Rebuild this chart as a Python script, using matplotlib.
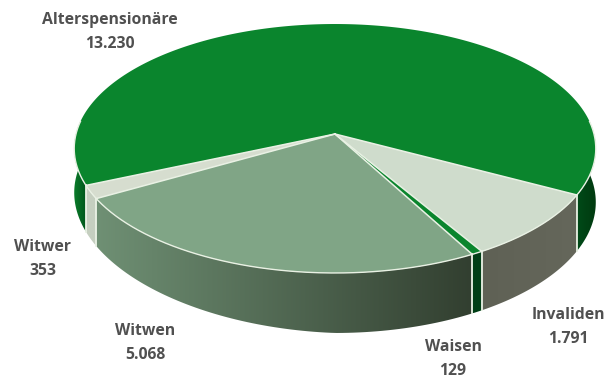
import numpy as np
import matplotlib
matplotlib.use('Agg')
import matplotlib.pyplot as plt
from matplotlib.patches import Polygon
from matplotlib.colors import LinearSegmentedColormap

# Pensionsarten und Anzahl
kategorien = ['Alterspensionäre', 'Invaliden', 'Waisen', 'Witwen', 'Witwer']
werte = [13230, 1791, 129, 5068, 353]

farben_oben = ['#0a852d', '#cfdccc', '#0a852d', '#80a586', '#d6ddcf']
# Verlauf der Seitenflaechen, jeweils von links nach rechts
farben_seite = [['#004a18', '#003a10'], ['#5f6155', '#65675b'], ['#003f16', '#003f16'],
                ['#6f9074', '#323f30'], ['#c5cfc0', '#c5cfc0']]
farben_seite_links = ['#0a7c2a', '#00561c']
label_pos = [(110, 32), (568, 327), (453, 359), (145, 343), (43, 259)]

# Geometrie der Torte in Pixeln
cx, cy = 335, 134
R, S = 259, 122.8
k = 0.1165
tiefe = 53
start = 28.0


def rand(t, unten=False):
    # Punkt auf dem Kreis, perspektivisch verzerrt (t in Grad, im Uhrzeigersinn)
    t = np.radians(t)
    w = 1 - k * np.sin(t)
    x = cx + R * np.cos(t) / w
    y = cy + S * np.sin(t) / w
    if unten:
        y = y + tiefe / w * (1 + 0.18 * np.minimum(np.cos(t), 0))
    return x, y


def seite(t0, t1, farben):
    # Seitenflaeche zwischen t0 und t1 mit horizontalem Verlauf
    t = np.linspace(t0, t1, 80)
    xo, yo = rand(t)
    xu, yu = rand(t, True)
    pts = np.column_stack([np.r_[xo, xu[::-1]], np.r_[yo, yu[::-1]]])
    cmap = LinearSegmentedColormap.from_list('s', farben)
    grad = np.linspace(0, 1, 256).reshape(1, -1)
    im = ax.imshow(grad, cmap=cmap, aspect='auto', zorder=2, interpolation='bilinear',
                   extent=[pts[:, 0].min(), pts[:, 0].max(), pts[:, 1].max(), pts[:, 1].min()])
    im.set_clip_path(Polygon(pts, closed=True, transform=ax.transData))


fig = plt.figure(figsize=(6.15, 3.78), dpi=100)
ax = fig.add_axes([0, 0, 1, 1])

anteile = np.array(werte) / sum(werte) * 360
# Alterspensionäre liegt hinten und schliesst den Kreis
grenzen = start - anteile[0] + np.r_[0, np.cumsum(anteile)]
sichtbar = (-6, 186)
hell = '#e9f1e4'

# Alterspensionäre ist zweimal sichtbar: rechts und links
seite(sichtbar[0], grenzen[1], farben_seite[0])
seite(grenzen[-1], sichtbar[1], farben_seite_links)
for i in range(1, len(werte)):
    seite(grenzen[i], grenzen[i + 1], farben_seite[i])

for i in range(len(werte)):
    t = np.linspace(grenzen[i], grenzen[i + 1], 300)
    x, y = rand(t)
    pts = np.column_stack([np.r_[cx, x], np.r_[cy, y]])
    ax.add_patch(Polygon(pts, closed=True, fc=farben_oben[i], ec='none', zorder=3))

# helle Kanten zwischen den Stuecken und am vorderen Rand
for g in grenzen[1:]:
    x, y = rand(g)
    ax.plot([cx, x], [cy, y], color=hell, lw=1.1, zorder=4)
    xu, yu = rand(g, True)
    ax.plot([x, xu], [y, yu], color=hell, lw=1.3, zorder=4)
t = np.linspace(sichtbar[0], sichtbar[1], 400)
x, y = rand(t)
ax.plot(x, y, color=hell, lw=1.0, zorder=4)

for name, wert, (lx, ly) in zip(kategorien, werte, label_pos):
    text = name + '\n' + f'{wert:,}'.replace(',', '.')
    ax.text(lx, ly, text, ha='center', va='center', fontsize=11.3, fontweight='bold',
            family='Open Sans', color='#505050', linespacing=1.6, zorder=5)

ax.set_xlim(0, 615)
ax.set_ylim(378, 0)
ax.axis('off')
fig.savefig('out.png', dpi=100)
